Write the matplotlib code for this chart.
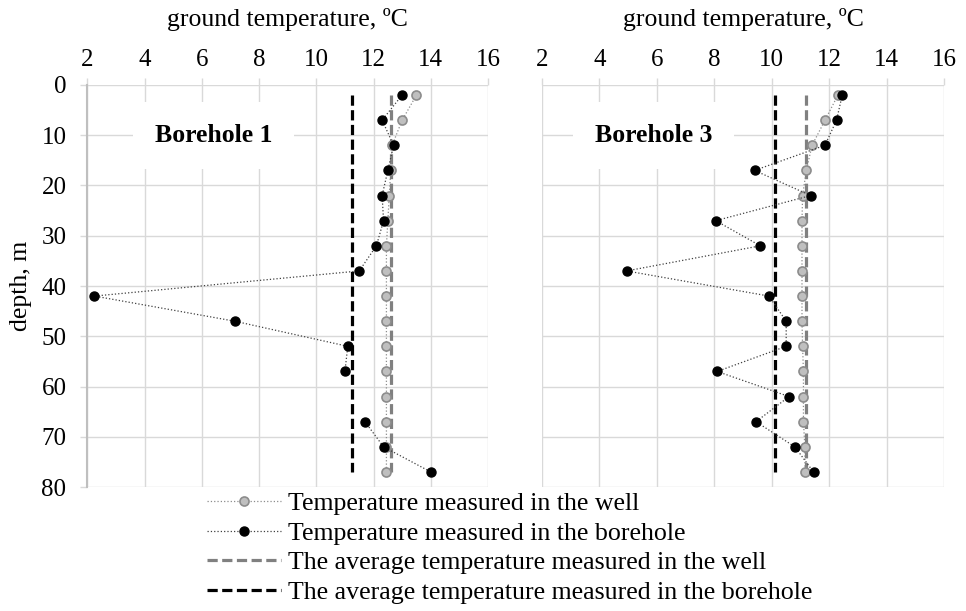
import numpy as np
import matplotlib
matplotlib.use("Agg")
import matplotlib.pyplot as plt

plt.rcParams['font.family'] = ['Liberation Serif', 'DejaVu Serif']

# depth of each measurement, m
depth = [2, 7, 12, 17, 22, 27, 32, 37, 42, 47, 52, 57, 62, 67, 72, 77]

# Borehole 1
bh1_well = [13.5, 13.0, 12.65, 12.6, 12.55, 12.5, 12.45, 12.45,
            12.45, 12.45, 12.45, 12.45, 12.45, 12.45, 12.45, 12.45]
bh1_bore = [13.0, 12.3, 12.7, 12.5, 12.3, 12.35, 12.1, 11.5,
            2.25, 7.15, 11.1, 11.0, np.nan, 11.7, 12.35, 14.0]
bh1_well_avg = 12.6
bh1_bore_avg = 11.25

# Borehole 3
bh3_well = [12.3, 11.85, 11.4, 11.2, 11.07, 11.05, 11.05, 11.05,
            11.05, 11.05, 11.07, 11.1, 11.1, 11.1, 11.15, 11.15]
bh3_bore = [12.45, 12.25, 11.85, 9.4, 11.35, 8.05, 9.6, 4.95,
            9.9, 10.5, 10.5, 8.1, 10.6, 9.45, 10.8, 11.45]
bh3_well_avg = 11.2
bh3_bore_avg = 10.1

xticks = [2, 4, 6, 8, 10, 12, 14, 16]
yticks = [0, 10, 20, 30, 40, 50, 60, 70, 80]

labels = ['Temperature measured in the well',
          'Temperature measured in the borehole',
          'The average temperature measured in the well',
          'The average temperature measured in the borehole']

grid_c = '#d9d9d9'
fs_tick = 18
fs_lab = 18.5
fs_leg = 18.6


def draw_panel(ax, well, bore, well_avg, bore_avg, name, name_x, show_y):
    ax.plot(well, depth, linestyle=':', color='#8c8c8c', lw=0.9,
            marker='o', ms=6.5, mfc='#bfbfbf', mec='#8c8c8c', mew=1.2, zorder=4)
    ax.plot(bore, depth, linestyle=':', color='#404040', lw=0.9,
            marker='o', ms=6.5, mfc='black', mec='black', zorder=5)
    ax.plot([well_avg, well_avg], [depth[0], depth[-1]], color='#808080',
            lw=2.3, dashes=(3.2, 1.4), zorder=3)
    ax.plot([bore_avg, bore_avg], [depth[0], depth[-1]], color='black',
            lw=2.3, dashes=(3.2, 1.4), zorder=3)

    ax.set_xlim(2, 16)
    ax.set_ylim(80, 0)
    ax.set_xticks(xticks)
    ax.set_yticks(yticks)
    ax.xaxis.tick_top()
    ax.xaxis.set_label_position('top')
    ax.set_xlabel('ground temperature, ºC', fontsize=fs_lab, labelpad=16.5)
    ax.grid(True, color=grid_c, lw=1.0, zorder=0)
    ax.set_axisbelow(True)
    for s in ax.spines.values():
        s.set_visible(False)
    ax.tick_params(axis='x', length=5, color=grid_c, width=1.0,
                   labelsize=fs_tick, pad=5)
    if show_y:
        ax.spines['left'].set_visible(True)
        ax.spines['left'].set_color('#bfbfbf')
        ax.spines['left'].set_linewidth(1.5)
        ax.tick_params(axis='y', length=5, color=grid_c, width=1.0,
                       labelsize=fs_tick, pad=10)
        ax.set_ylabel('depth, m', fontsize=fs_lab, labelpad=7)
    else:
        ax.tick_params(axis='y', length=0, labelleft=False)

    ax.text(name_x, 10, name, fontsize=fs_lab, fontweight='bold',
            ha='center', va='center', zorder=6,
            bbox=dict(boxstyle='square,pad=0.85', fc='white', ec='none'))


fig = plt.figure(figsize=(9.66, 6.11), dpi=100)
ax1 = fig.add_axes([0.0904, 0.2029, 0.4148, 0.658])
ax2 = fig.add_axes([0.5608, 0.2029, 0.4168, 0.658])

draw_panel(ax1, bh1_well, bh1_bore, bh1_well_avg, bh1_bore_avg,
           'Borehole 1', 6.4, True)
draw_panel(ax2, bh3_well, bh3_bore, bh3_well_avg, bh3_bore_avg,
           'Borehole 3', 5.9, False)

h_well = plt.Line2D([], [], linestyle=':', color='#8c8c8c', lw=0.9, marker='o',
                    ms=6.5, mfc='#bfbfbf', mec='#8c8c8c', mew=1.2)
h_bore = plt.Line2D([], [], linestyle=':', color='#404040', lw=0.9, marker='o',
                    ms=6.5, mfc='black', mec='black')
h_wavg = plt.Line2D([], [], color='#808080', lw=2.3, dashes=(3.2, 1.4))
h_bavg = plt.Line2D([], [], color='black', lw=2.3, dashes=(3.2, 1.4))

fig.legend([h_well, h_bore, h_wavg, h_bavg], labels,
           loc='upper left', bbox_to_anchor=(207 / 966, 1 - 492 / 611),
           frameon=False, fontsize=fs_leg, handlelength=2.85,
           handletextpad=0.3, labelspacing=0.25, borderpad=0,
           borderaxespad=0)

fig.savefig('out.png', dpi=100)
